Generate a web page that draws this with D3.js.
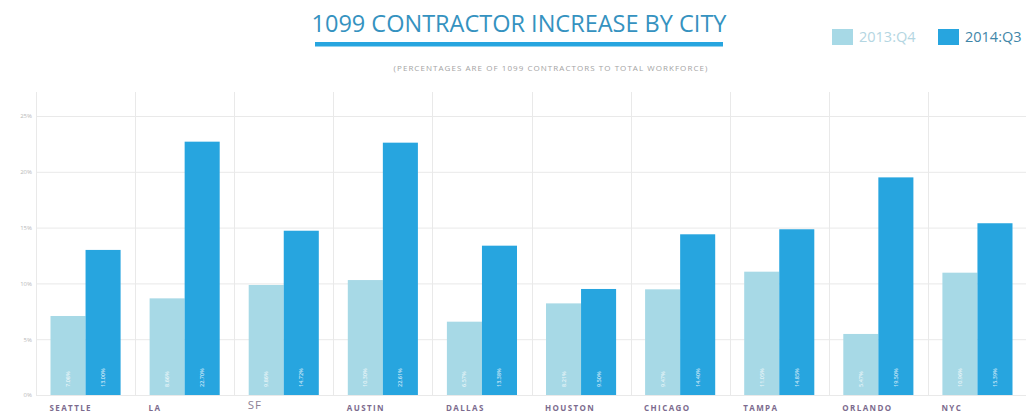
<!DOCTYPE html>
<html>
<head>
<meta charset="utf-8">
<script src="https://cdn.jsdelivr.net/npm/d3@7"></script>
<style>
  html, body { margin: 0; padding: 0; background: #fff; }
  svg { display: block; }
</style>
</head>
<body>
<svg id="chart" width="1026" height="412"></svg>
<script>
// Cities and the share of 1099 contractors in each (percent of total workforce)
const cities = ["SEATTLE", "LA", "SF", "AUSTIN", "DALLAS", "HOUSTON", "CHICAGO", "TAMPA", "ORLANDO", "NYC"];
const q4_2013 = [7.08, 8.66, 9.86, 10.30, 6.57, 8.21, 9.47, 11.05, 5.47, 10.96];
const q3_2014 = [13.00, 22.70, 14.72, 22.61, 13.38, 9.50, 14.40, 14.85, 19.50, 15.39];
const seriesNames = ["2013:Q4", "2014:Q3"];
const yTicks = [0, 5, 10, 15, 20, 25];

const colors = { "2013:Q4": "#a7d9e6", "2014:Q3": "#27a5df" };

const svg = d3.select("#chart");
const W = 1026;
const plot = { left: 36, right: 1026, top: 116, bottom: 395 };

const rows = cities.map((c, i) => ({ city: c, values: [
  { key: seriesNames[0], value: q4_2013[i] },
  { key: seriesNames[1], value: q3_2014[i] }
]}));

const x0 = d3.scaleBand().domain(cities).range([plot.left, plot.right + 1]).padding(0);
const x1 = d3.scaleBand().domain(seriesNames).range([14.5, x0.bandwidth() - 14.5]).padding(0);
const y = d3.scaleLinear().domain([0, 25]).range([plot.bottom, plot.top]);

// Grid: horizontal lines at every tick
const grid = svg.append("g");
grid.selectAll("line.h").data(yTicks).join("line")
  .attr("x1", plot.left).attr("x2", W)
  .attr("y1", d => y(d) + 0.5).attr("y2", d => y(d) + 0.5)
  .attr("stroke", "#e9e9e9").attr("stroke-width", 1);

// Grid: vertical separators between city groups
grid.selectAll("line.v").data(cities).join("line")
  .attr("x1", d => Math.round(x0(d)) + 0.5).attr("x2", d => Math.round(x0(d)) + 0.5)
  .attr("y1", 92).attr("y2", plot.bottom)
  .attr("stroke", "#e9e9e9").attr("stroke-width", 1);

// Y axis tick labels
const yAxis = d3.axisLeft(y).tickValues(yTicks).tickFormat(d => d + "%").tickSize(0).tickPadding(4);
const yg = svg.append("g").attr("transform", `translate(${plot.left},0)`).call(yAxis);
yg.select(".domain").remove();
yg.selectAll("text")
  .attr("fill", "#b9b9b9")
  .style("font-family", "'Open Sans', sans-serif")
  .style("font-size", "6px");

// Bars
const groups = svg.append("g").selectAll("g").data(rows).join("g")
  .attr("transform", d => `translate(${x0(d.city)},0)`);

groups.selectAll("rect").data(d => d.values).join("rect")
  .attr("x", d => x1(d.key))
  .attr("width", x1.bandwidth())
  .attr("y", d => y(d.value))
  .attr("height", d => y(0) - y(d.value))
  .attr("fill", d => colors[d.key]);

// Value labels, written upward inside each bar
groups.selectAll("text.val").data(d => d.values).join("text")
  .attr("class", "val")
  .attr("transform", d => `translate(${x1(d.key) + x1.bandwidth() / 2 + 2},${plot.bottom - 8}) rotate(-90)`)
  .attr("fill", "#ffffff")
  .attr("fill-opacity", 0.75)
  .style("font-family", "'Open Sans', sans-serif")
  .style("font-size", "5.5px")
  .style("font-weight", "600")
  .text(d => d.value.toFixed(2) + "%");

// City labels under each group
svg.append("g").selectAll("text").data(cities).join("text")
  .attr("x", d => x0(d) + 13.5)
  .attr("y", d => d === "SF" ? 408.5 : 410.5)
  .attr("fill", d => d === "SF" ? "#8b7f95" : "#7c6b8e")
  .style("font-family", "'Open Sans', sans-serif")
  .style("font-size", d => d === "SF" ? "11.5px" : "8px")
  .style("font-weight", d => d === "SF" ? "400" : "700")
  .style("letter-spacing", d => d === "SF" ? "1px" : "1.4px")
  .text(d => d);

// Title, rule and subtitle
svg.append("text")
  .attr("x", 519).attr("y", 32)
  .attr("text-anchor", "middle")
  .attr("fill", "#3592c0")
  .style("font-family", "'Open Sans', sans-serif")
  .style("font-size", "23.5px")
  .text("1099 CONTRACTOR INCREASE BY CITY");

svg.append("rect")
  .attr("x", 315).attr("y", 42).attr("width", 408).attr("height", 4.5)
  .attr("fill", "#27a5df");

svg.append("text")
  .attr("x", 551).attr("y", 71)
  .attr("text-anchor", "middle")
  .attr("fill", "#a3a3a3")
  .style("font-family", "'Open Sans', sans-serif")
  .style("font-size", "8px")
  .style("letter-spacing", "1.05px")
  .text("(PERCENTAGES ARE OF 1099 CONTRACTORS TO TOTAL WORKFORCE)");

// Legend
const legendX = [832, 938];
const legendTextColor = ["#b4d6e2", "#3f86a8"];
const legend = svg.append("g").selectAll("g").data(seriesNames).join("g")
  .attr("transform", (d, i) => `translate(${legendX[i]},29)`);
legend.append("rect").attr("width", 21).attr("height", 16).attr("fill", d => colors[d]);
legend.append("text")
  .attr("x", 27).attr("y", 13)
  .attr("fill", (d, i) => legendTextColor[i])
  .style("font-family", "'Open Sans', sans-serif")
  .style("font-size", "14.5px")
  .text(d => d);
</script>
</body>
</html>
